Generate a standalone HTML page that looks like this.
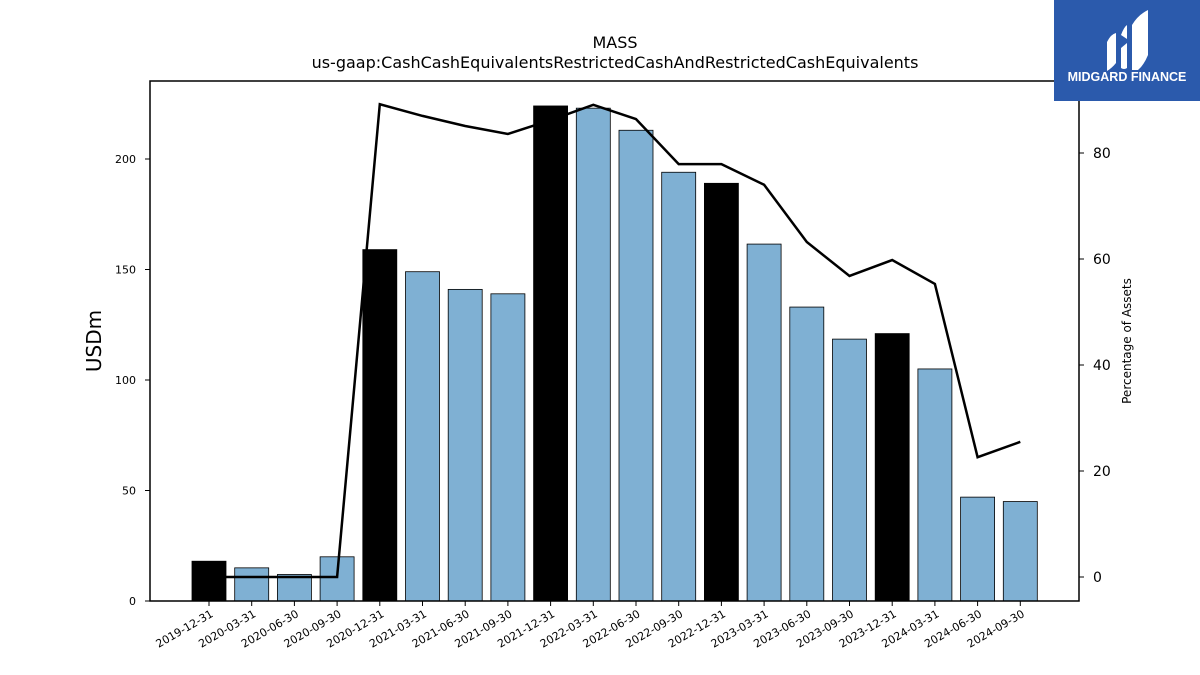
<!DOCTYPE html>
<html><head><meta charset="utf-8"><style>
body{margin:0;background:#fff;font-family:"Liberation Sans","DejaVu Sans",sans-serif}
svg{display:block}
</style></head><body>
<svg id="chart" width="1200" height="675" viewBox="0 0 1200 675" xmlns="http://www.w3.org/2000/svg" font-family="'DejaVu Sans','Liberation Sans',sans-serif">
<text x="615" y="48" text-anchor="middle" font-size="16">MASS</text>
<text x="615" y="68" text-anchor="middle" font-size="16">us-gaap:CashCashEquivalentsRestrictedCashAndRestrictedCashEquivalents</text>
<g id="bars"></g>
<g id="line"></g>
<rect x="150" y="81" width="929" height="520" fill="none" stroke="#000" stroke-width="1.5"/>
<g id="axes"></g>
<text transform="translate(101,341) rotate(-90)" text-anchor="middle" font-size="20">USDm</text>
<text transform="translate(1131,341) rotate(-90)" text-anchor="middle" font-size="12">Percentage of Assets</text>
<g>
<rect x="1054" y="0" width="146" height="101" fill="#2b5aac"/>
<path d="M1107 42 q4-8 9-9 v30 q-4 5-9 8z M1121 35 q3-8 6-10 v14 l-6-4z M1121 48 l6-5 v25 q-3 2-6 0z M1132 25 q6-10 16-15 v45 q-4 10-10 15 l-6 0z" fill="#fff"/>
<text x="1127" y="81" text-anchor="middle" font-size="12.5" font-weight="bold" fill="#fff" font-family="'Liberation Sans',sans-serif">MIDGARD FINANCE</text>
</g>
</svg>
<script>
const categories=["2019-12-31","2020-03-31","2020-06-30","2020-09-30","2020-12-31","2021-03-31","2021-06-30","2021-09-30","2021-12-31","2022-03-31","2022-06-30","2022-09-30","2022-12-31","2023-03-31","2023-06-30","2023-09-30","2023-12-31","2024-03-31","2024-06-30","2024-09-30"];
const cashValues=[18,15,12,20,159,149,141,139,224,223,213,194,189,161.5,133,118.5,121,105,47,45];
const pctAssets=[0,0,0,0,89.2,87,85.1,83.6,86.2,89.1,86.4,77.9,77.9,74,63.2,56.8,59.8,55.3,22.6,25.5];
const leftTicks=[0,50,100,150,200];
const rightTicks=[0,20,40,60,80];
const NS="http://www.w3.org/2000/svg";
function mk(t,a,p){const e=document.createElementNS(NS,t);for(const k in a)e.setAttribute(k,a[k]);p.appendChild(e);return e;}
const x=i=>209+i*42.7;
const yL=v=>601-v*2.21;
const yR=v=>577-v*5.3;
const bars=document.getElementById('bars'),line=document.getElementById('line'),axes=document.getElementById('axes');
cashValues.forEach((v,i)=>{
 const dec=categories[i].endsWith('12-31');
 const r=mk('rect',{x:x(i)-17,y:yL(v),width:34,height:601-yL(v),fill:dec?'#000':'#7fb0d3',stroke:'#000','stroke-width':0.8},bars);
 
 
});
const pl=mk('polyline',{points:pctAssets.map((v,i)=>x(i)+','+yR(v)).join(' '),fill:'none',stroke:'#000','stroke-width':2.5},line);


leftTicks.forEach(v=>{
 mk('line',{x1:145,x2:150,y1:yL(v),y2:yL(v),stroke:'#000'},axes);
 const t=mk('text',{x:136,y:yL(v)+4,'text-anchor':'end','font-size':11},axes);t.textContent=v;
 
 
});
rightTicks.forEach(v=>{
 mk('line',{x1:1079,x2:1084,y1:yR(v),y2:yR(v),stroke:'#000'},axes);
 const t=mk('text',{x:1093,y:yR(v)+5,'font-size':14},axes);t.textContent=v;
 
 
});
categories.forEach((c,i)=>{
 mk('line',{x1:x(i),x2:x(i),y1:601,y2:606,stroke:'#000'},axes);
 const t=mk('text',{x:x(i)+5,y:616,'text-anchor':'end','font-size':11,transform:`rotate(-30 ${x(i)+5} 616)`},axes);t.textContent=c;
 
 
});
</script>
</body></html>
